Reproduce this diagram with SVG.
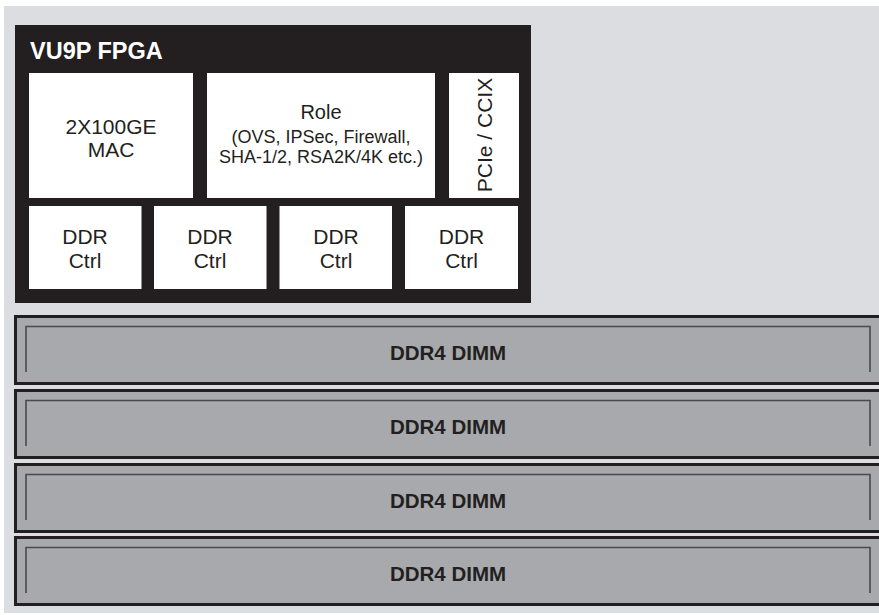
<svg xmlns="http://www.w3.org/2000/svg" width="879" height="615" viewBox="0 0 879 615">
<style>
.blk{fill:#231f20}
.box{fill:#ffffff}
.t{font-family:"Liberation Sans",Arial,sans-serif;fill:#231f20;text-anchor:middle}
.n{font-size:21px}
.r{font-size:18px}
.title{font-family:"Liberation Sans",Arial,sans-serif;font-weight:bold;font-size:23.5px;fill:#ffffff}
.bar{fill:#a7a9ac;stroke:#231f20;stroke-width:3}
.inner{fill:none;stroke:#4a4a4c;stroke-width:1.6}
.b{font-weight:bold;font-size:20.5px}
</style>
<rect x="0" y="0" width="879" height="615" fill="#ffffff"/>
<rect x="4" y="6" width="875" height="607" fill="#dcdde0"/>
<g id="fpga">
<rect class="blk" x="15" y="25" width="516" height="278"/>
<text class="title" x="30" y="59">VU9P FPGA</text>
</g>
<g id="mac">
<rect class="box" x="29" y="73" width="164" height="125"/>
<text class="t n" x="111" y="134">2X100GE</text>
<text class="t n" x="111" y="157">MAC</text>
</g>
<g id="role">
<rect class="box" x="207" y="73" width="228" height="125"/>
<text class="t" x="321" y="119" font-size="20" fill="#3d3b3c">Role</text>
<text class="t r" x="321" y="142.5">(OVS, IPSec, Firewall,</text>
<text class="t r" x="321" y="163">SHA-1/2, RSA2K/4K etc.)</text>
</g>
<g id="pcie">
<rect class="box" x="449" y="73" width="70" height="125"/>
<text class="t n" transform="translate(491.5,135) rotate(-90)" x="0" y="0">PCIe / CCIX</text>
</g>
<g id="ddrctrl1">
<rect class="box" x="29" y="206" width="112.5" height="83"/>
<text class="t n" x="85" y="244">DDR</text>
<text class="t n" x="85" y="268">Ctrl</text>
</g>
<g id="ddrctrl2">
<rect class="box" x="154" y="206" width="112.5" height="83"/>
<text class="t n" x="210" y="244">DDR</text>
<text class="t n" x="210" y="268">Ctrl</text>
</g>
<g id="ddrctrl3">
<rect class="box" x="279.5" y="206" width="112.5" height="83"/>
<text class="t n" x="336" y="244">DDR</text>
<text class="t n" x="336" y="268">Ctrl</text>
</g>
<g id="ddrctrl4">
<rect class="box" x="405" y="206" width="113" height="83"/>
<text class="t n" x="461.5" y="244">DDR</text>
<text class="t n" x="461.5" y="268">Ctrl</text>
</g>
<g id="dimm1">
<rect class="bar" x="15.5" y="316.5" width="870" height="67"/>
<path class="inner" d="M26,372V326.5H870V372"/>
<text class="t b" x="448" y="360">DDR4 DIMM</text>
</g>
<g id="dimm2">
<rect class="bar" x="15.5" y="390.5" width="870" height="67"/>
<path class="inner" d="M26,446V400.5H870V446"/>
<text class="t b" x="448" y="434">DDR4 DIMM</text>
</g>
<g id="dimm3">
<rect class="bar" x="15.5" y="464.5" width="870" height="67"/>
<path class="inner" d="M26,520V474.5H870V520"/>
<text class="t b" x="448" y="508">DDR4 DIMM</text>
</g>
<g id="dimm4">
<rect class="bar" x="15.5" y="537.5" width="870" height="67"/>
<path class="inner" d="M26,593V547.5H870V593"/>
<text class="t b" x="448" y="581">DDR4 DIMM</text>
</g>
<g id="connectors"></g>
</svg>
